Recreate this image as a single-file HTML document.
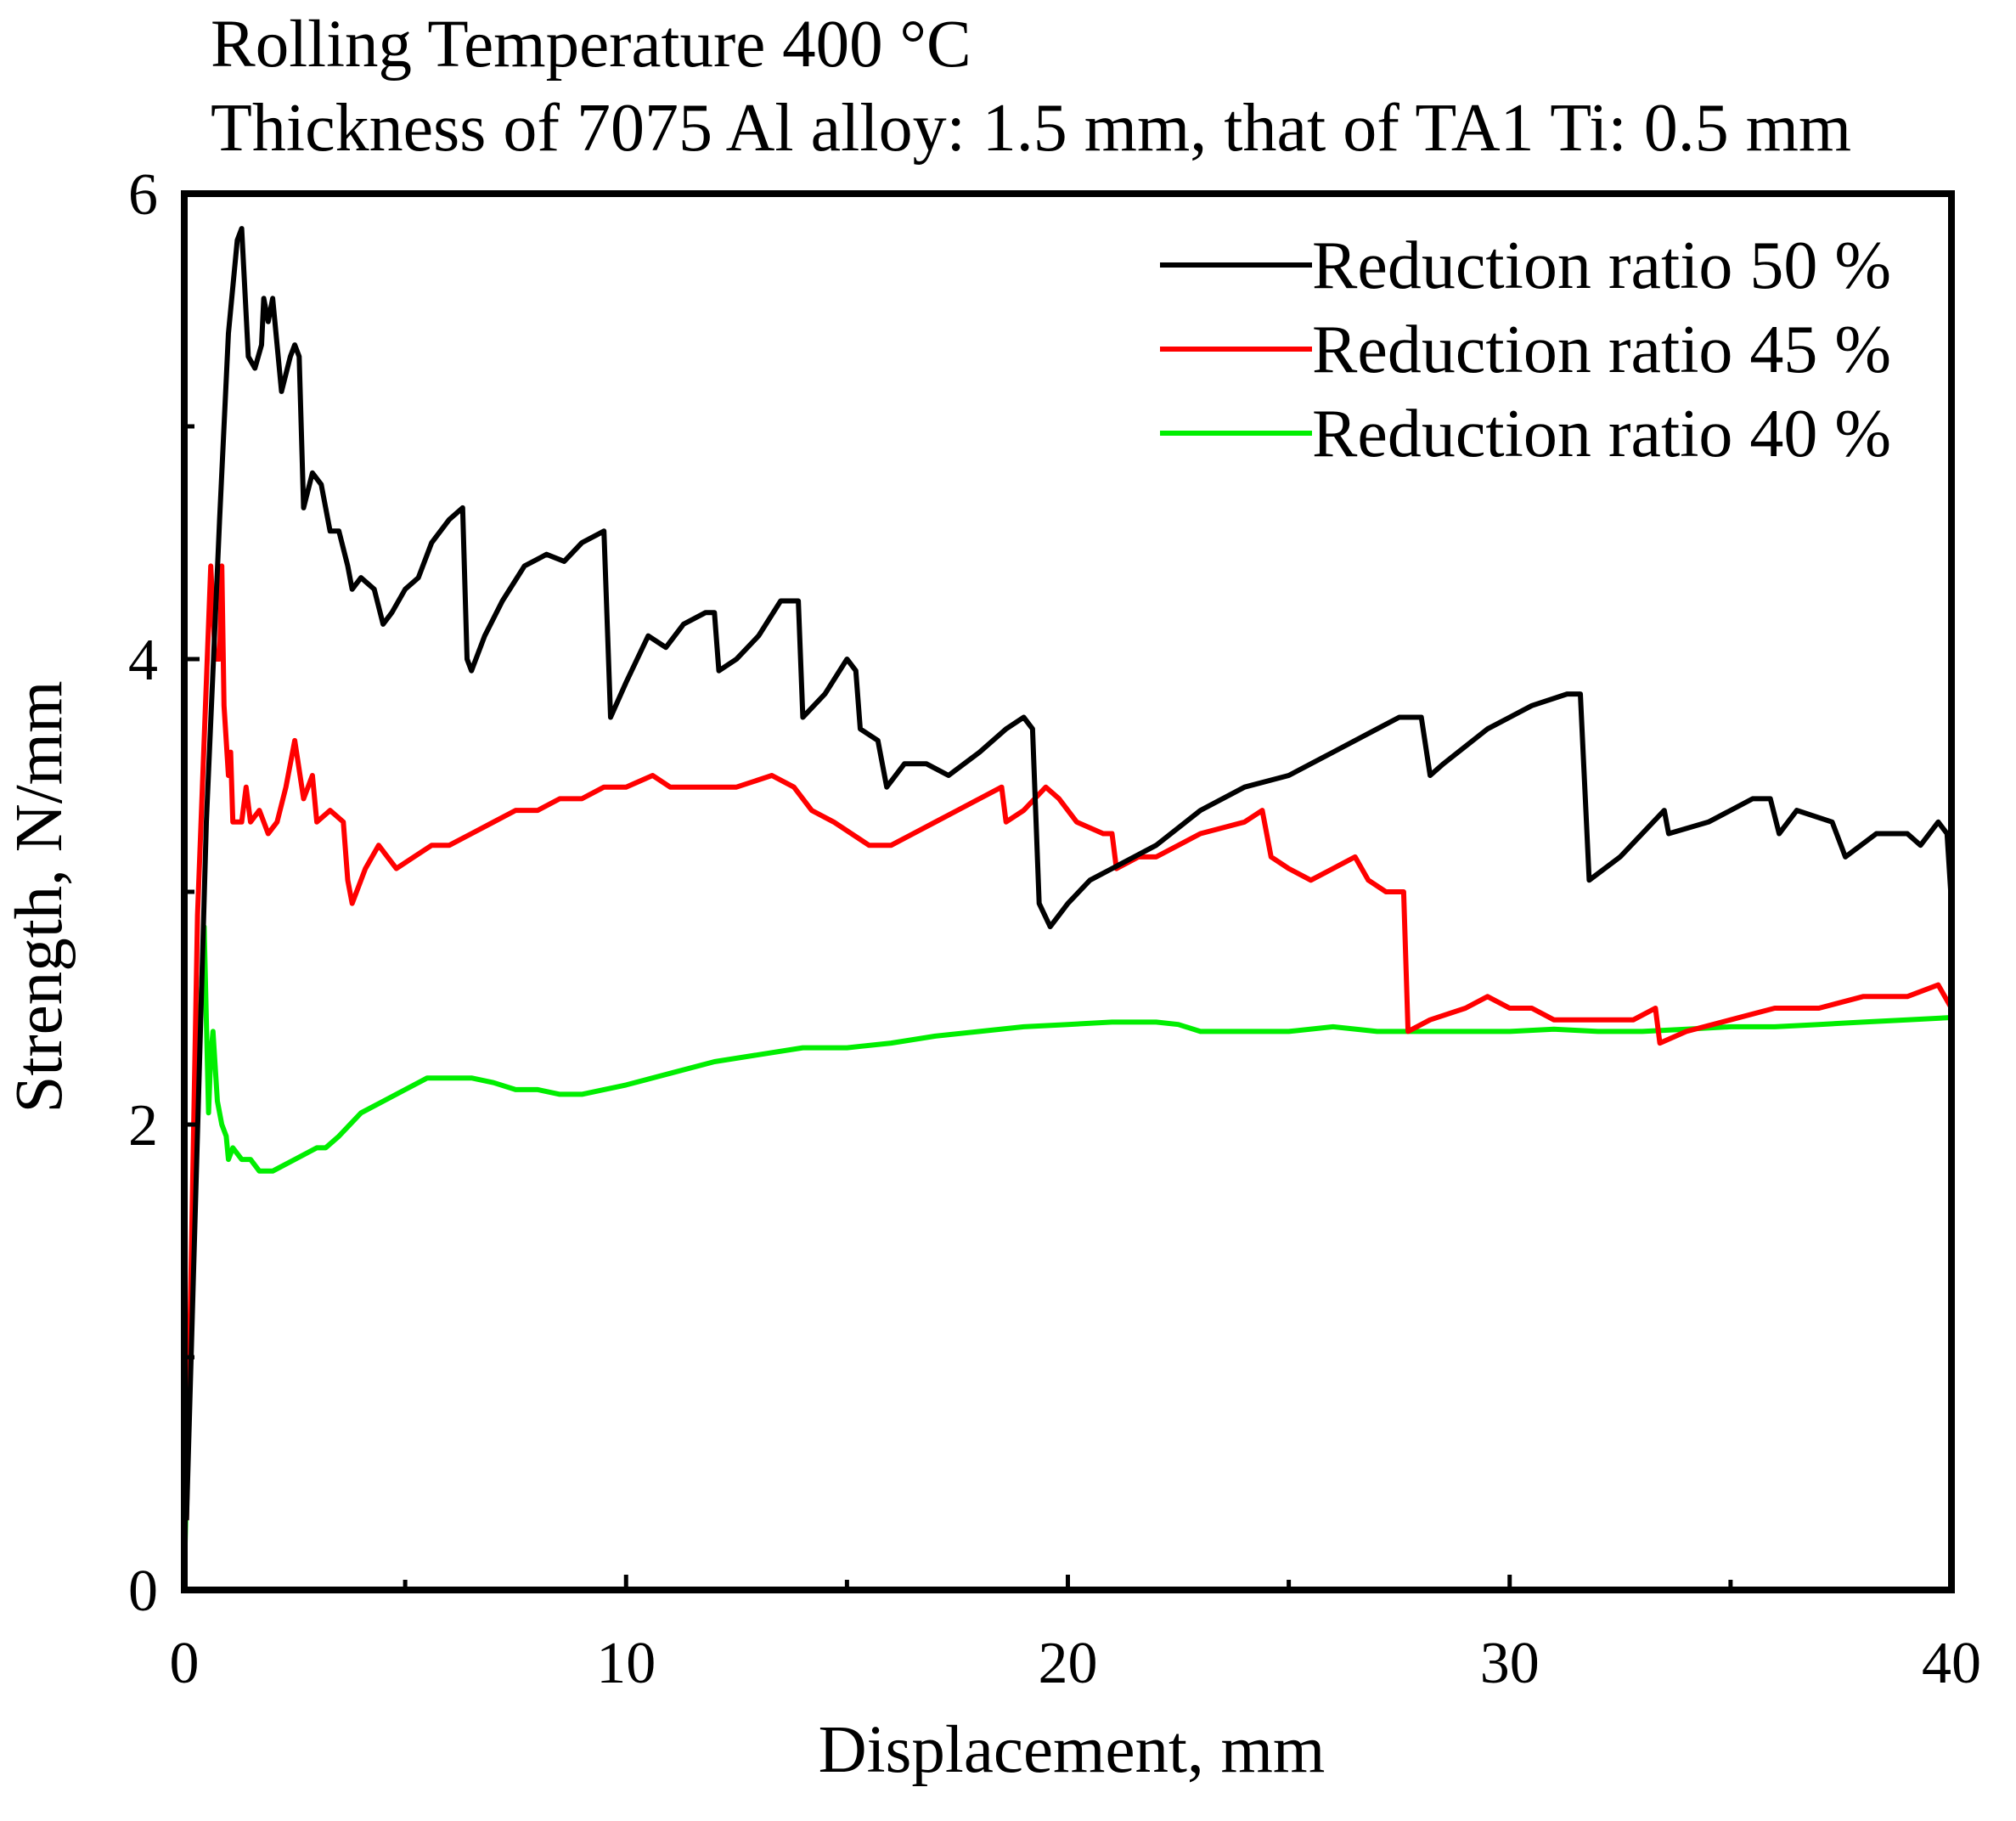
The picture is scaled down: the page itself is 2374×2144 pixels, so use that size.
<!DOCTYPE html>
<html><head><meta charset="utf-8"><style>
body{margin:0;background:#fff}
svg text{font-family:"Liberation Serif",serif;fill:#000}
</style></head><body>
<svg id="c" width="2374" height="2139" xmlns="http://www.w3.org/2000/svg">
<text x="248" y="78" font-size="79">Rolling Temperature 400 °C</text>
<text x="248" y="177" font-size="80">Thickness of 7075 Al alloy: 1.5 mm, that of TA1 Ti: 0.5 mm</text>
<g id="plot"></g>
<g id="axes"></g>
<text x="1262" y="2086" font-size="79" text-anchor="middle">Displacement, mm</text>
<text transform="translate(72,1056) rotate(-90)" font-size="79" text-anchor="middle">Strength, N/mm</text>
</svg>
<script>
const xTicks=[0,10,20,30,40];
const yTicks=[0,2,4,6];
const seriesNames=["Reduction ratio 50 %","Reduction ratio 45 %","Reduction ratio 40 %"];
const seriesColors=["#000000","#ff0000","#00ee00"];
const x50=[0.05,0.5,0.8,1.0,1.2,1.3,1.45,1.6,1.75,1.8,1.9,2.0,2.1,2.2,2.4,2.5,2.6,2.7,2.9,3.1,3.3,3.5,3.7,3.8,4.0,4.3,4.5,4.7,5.0,5.3,5.6,6.0,6.3,6.4,6.5,6.8,7.2,7.7,8.2,8.6,9.0,9.5,9.65,10.0,10.5,10.9,11.3,11.8,12.0,12.1,12.5,13.0,13.5,13.9,14.0,14.5,15.0,15.2,15.3,15.7,15.9,16.3,16.8,17.3,18.0,18.6,19.0,19.2,19.35,19.6,20.0,20.5,21.0,21.5,22.0,23.0,24.0,25.0,26.0,27.0,27.5,28.0,28.2,28.5,29.5,30.5,31.3,31.6,31.8,32.5,33.5,33.6,34.5,35.5,35.9,36.1,36.5,37.3,37.6,38.3,39.0,39.3,39.7,39.9,40.0];
const y50=[0.3,3.3,4.6,5.4,5.8,5.85,5.3,5.25,5.35,5.55,5.45,5.55,5.35,5.15,5.3,5.35,5.3,4.65,4.8,4.75,4.55,4.55,4.4,4.3,4.35,4.3,4.15,4.2,4.3,4.35,4.5,4.6,4.65,4.0,3.95,4.1,4.25,4.4,4.45,4.42,4.5,4.55,3.75,3.9,4.1,4.05,4.15,4.2,4.2,3.95,4.0,4.1,4.25,4.25,3.75,3.85,4.0,3.95,3.7,3.65,3.45,3.55,3.55,3.5,3.6,3.7,3.75,3.7,2.95,2.85,2.95,3.05,3.1,3.15,3.2,3.35,3.45,3.5,3.6,3.7,3.75,3.75,3.5,3.55,3.7,3.8,3.85,3.85,3.05,3.15,3.35,3.25,3.3,3.4,3.4,3.25,3.35,3.3,3.15,3.25,3.25,3.2,3.3,3.25,2.95];
const x45=[0.05,0.3,0.5,0.6,0.7,0.8,0.85,0.9,1.0,1.05,1.1,1.3,1.4,1.5,1.7,1.9,2.1,2.3,2.5,2.7,2.8,2.9,3.0,3.3,3.6,3.7,3.8,4.1,4.4,4.6,4.8,5.2,5.6,6.0,6.5,7.0,7.5,8.0,8.5,9.0,9.5,10.0,10.6,11.0,11.5,12.0,12.5,13.3,13.8,14.2,14.7,15.1,15.5,16.0,16.5,17.0,17.5,18.0,18.5,18.6,19.0,19.5,19.8,20.2,20.8,21.0,21.1,21.6,22.0,23.0,24.0,24.4,24.6,25.0,25.5,26.0,26.5,26.8,27.2,27.6,27.7,28.2,29.0,29.5,30.0,30.5,31.0,32.0,32.8,33.3,33.4,34.0,35.0,36.0,37.0,38.0,39.0,39.7,40.0];
const y45=[0.3,2.9,3.9,4.4,4.0,4.0,4.4,3.8,3.5,3.6,3.3,3.3,3.45,3.3,3.35,3.25,3.3,3.45,3.65,3.4,3.45,3.5,3.3,3.35,3.3,3.05,2.95,3.1,3.2,3.15,3.1,3.15,3.2,3.2,3.25,3.3,3.35,3.35,3.4,3.4,3.45,3.45,3.5,3.45,3.45,3.45,3.45,3.5,3.45,3.35,3.3,3.25,3.2,3.2,3.25,3.3,3.35,3.4,3.45,3.3,3.35,3.45,3.4,3.3,3.25,3.25,3.1,3.15,3.15,3.25,3.3,3.35,3.15,3.1,3.05,3.1,3.15,3.05,3.0,3.0,2.4,2.45,2.5,2.55,2.5,2.5,2.45,2.45,2.45,2.5,2.35,2.4,2.45,2.5,2.5,2.55,2.55,2.6,2.5];
const x40=[0.02,0.2,0.35,0.45,0.55,0.6,0.65,0.75,0.85,0.95,1.0,1.1,1.3,1.5,1.7,2.0,2.5,3.0,3.2,3.5,4.0,4.5,5.0,5.5,6.0,6.5,7.0,7.5,8.0,8.5,9.0,9.5,10.0,11.0,12.0,13.0,14.0,15.0,16.0,17.0,18.0,19.0,20.0,21.0,22.0,22.5,23.0,24.0,25.0,26.0,27.0,28.0,29.0,30.0,31.0,32.0,33.0,34.0,35.0,36.0,37.0,38.0,39.0,40.0];
const y40=[0.2,1.5,2.4,2.85,2.05,2.3,2.4,2.1,2.0,1.95,1.85,1.9,1.85,1.85,1.8,1.8,1.85,1.9,1.9,1.95,2.05,2.1,2.15,2.2,2.2,2.2,2.18,2.15,2.15,2.13,2.13,2.15,2.17,2.22,2.27,2.3,2.33,2.33,2.35,2.38,2.4,2.42,2.43,2.44,2.44,2.43,2.4,2.4,2.4,2.42,2.4,2.4,2.4,2.4,2.41,2.4,2.4,2.41,2.42,2.42,2.43,2.44,2.45,2.46];

const X0=217,X1=2298,Y0=1872,Y1=228,XMAX=40,YMAX=6;
const sx=v=>X0+(X1-X0)*v/XMAX, sy=v=>Y0-(Y0-Y1)*v/YMAX;
const NS="http://www.w3.org/2000/svg";
const plot=document.getElementById('plot'),axes=document.getElementById('axes');
function mk(t,a,p){const e=document.createElementNS(NS,t);for(const k in a)e.setAttribute(k,a[k]);p.appendChild(e);return e;}
const xs=[x50,x45,x40],ys=[y50,y45,y40],keys=["50","45","40"];
for(let s=2;s>=0;s--){
  const d=xs[s].map((v,i)=>(i?'L':'M')+sx(v).toFixed(1)+','+sy(ys[s][i]).toFixed(1)).join('');
  const p=mk('path',{d:d,fill:'none',stroke:seriesColors[s],'stroke-width':6,'stroke-linejoin':'round'},plot);
  
  
}
const frame=mk('rect',{x:X0,y:Y1,width:X1-X0,height:Y0-Y1,fill:'none',stroke:'#000','stroke-width':8},axes);


for(let v=0;v<=XMAX;v+=5){
  const t=mk('line',{x1:sx(v),x2:sx(v),y1:Y0,y2:Y0-(v%10?12:18),stroke:'#000','stroke-width':5},axes);
  
  
}
for(let v=0;v<=YMAX;v+=1){
  const t=mk('line',{x1:X0,x2:X0+(v%2?12:18),y1:sy(v),y2:sy(v),stroke:'#000','stroke-width':5},axes);
  
  
}
xTicks.forEach(v=>{const t=mk('text',{x:sx(v),y:1981,'font-size':70,'text-anchor':'middle'},axes);t.textContent=v;
  
  });
yTicks.forEach(v=>{const t=mk('text',{x:186,y:sy(v)+24,'font-size':70,'text-anchor':'end'},axes);t.textContent=v;
  
  });
const ly=[312,411,510];
seriesNames.forEach((n,i)=>{
  const g=mk('g',{},axes);
  
  
  mk('line',{x1:1366,x2:1545,y1:ly[i],y2:ly[i],stroke:seriesColors[i],'stroke-width':6},g);
  const t=mk('text',{x:1545,y:ly[i]+27,'font-size':80},g);t.textContent=n;
});
</script>
</body></html>
